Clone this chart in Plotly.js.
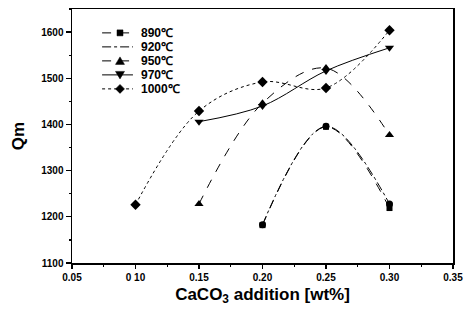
<!DOCTYPE html>
<html><head><meta charset="utf-8">
<script src="https://cdn.plot.ly/plotly-3.0.1.min.js"></script>
<style>html,body{margin:0;padding:0;background:#fff;}#chart{width:474px;height:312px;}</style>
</head><body><div id="chart"></div>
<script>
const seriesNames = ["890℃", "920℃", "950℃", "970℃", "1000℃"];
const x890 = [0.20, 0.25, 0.30];
const y890 = [1182, 1395, 1219];
const x920 = [0.20, 0.25, 0.30];
const y920 = [1183, 1396, 1228];
const x950 = [0.15, 0.20, 0.25, 0.30];
const y950 = [1228, 1446, 1522, 1377];
const x970 = [0.15, 0.20, 0.25, 0.30];
const y970 = [1406, 1440, 1516, 1566];
const x1000 = [0.10, 0.15, 0.20, 0.25, 0.30];
const y1000 = [1226, 1429, 1492, 1479, 1604];
const xTicks = [0.05, 0.10, 0.15, 0.20, 0.25, 0.30, 0.35];
const xTickLabels = ["0.05", "0 10", "0.15", "0.20", "0.25", "0.30", "0.35"];
const yTicks = [1100, 1200, 1300, 1400, 1500, 1600];

const xs = [x890, x920, x950, x970, x1000];
const ys = [y890, y920, y950, y970, y1000];
const symbols = ["square", "circle", "triangle-up", "triangle-down", "diamond"];
const dashes = ["dash", "dashdot", "dash", "solid", "dot"];
const sizes = [6, 7, 8, 8, 8];

const traces = seriesNames.map((n, i) => ({
  x: xs[i], y: ys[i], name: n, type: "scatter", mode: "lines+markers",
  showlegend: false,
  line: {color: "#000", width: 1, dash: dashes[i], shape: "spline", smoothing: 1},
  marker: {symbol: symbols[i], size: sizes[i], color: "#000"}
}));

// Custom compact legend (layout only)
const legTop = 0.906, legStep = 14 / 254;
const legLineX0 = 0.079, legLineX1 = 0.160, legMarkX = 0.126, legTextX = 0.176;
const glyphPaths = [
  "M-3,-3 L3,-3 L3,3 L-3,3 Z",
  "M-3.5,0 A3.5,3.5 0 1,0 3.5,0 A3.5,3.5 0 1,0 -3.5,0 Z",
  "M-4.5,-3.5 L4.5,-3.5 L0,4 Z",
  "M-4.5,3.5 L4.5,3.5 L0,-4 Z",
  "M0,-4.5 L4.5,0 L0,4.5 L-4.5,0 Z"
];
const shapes = [];
const annotations = [];
seriesNames.forEach((n, i) => {
  const yy = legTop - i * legStep;
  shapes.push({type: "line", xref: "paper", yref: "paper", x0: legLineX0, x1: legLineX1, y0: yy, y1: yy,
    line: {color: "#000", width: 1, dash: dashes[i]}});
  shapes.push({type: "path", xref: "paper", yref: "paper", xsizemode: "pixel", ysizemode: "pixel",
    xanchor: legMarkX, yanchor: yy, path: glyphPaths[i], fillcolor: "#000", line: {color: "#000", width: 0.5}});
  annotations.push({xref: "paper", yref: "paper", x: legTextX, y: yy, xanchor: "left", yanchor: "middle",
    text: n, showarrow: false,
    font: {family: "Arial, Liberation Sans, sans-serif", size: 12, color: "#000", weight: "bold"}});
});

const tickFont = {family: "Arial, Liberation Sans, sans-serif", size: 10, color: "#000", weight: "bold"};
const layout = {
  width: 474, height: 312,
  margin: {l: 72, r: 21, t: 9, b: 49},
  paper_bgcolor: "#fff", plot_bgcolor: "#fff",
  showlegend: false,
  shapes: shapes, annotations: annotations,
  xaxis: {range: [0.05, 0.35], tickvals: xTicks, ticktext: xTickLabels,
    showgrid: false, zeroline: false, showline: true, linecolor: "#000", linewidth: 1.5, mirror: true,
    ticks: "outside", ticklen: 4, tickwidth: 1.2, tickcolor: "#000",
    minor: {dtick: 0.025, ticks: "outside", ticklen: 2, tickcolor: "#000"},
    tickfont: tickFont,
    title: {text: "CaCO<sub>3</sub> addition [wt%]", standoff: 6,
      font: {family: "Arial, Liberation Sans, sans-serif", size: 17, color: "#000", weight: "bold"}}},
  yaxis: {range: [1100, 1650], tickvals: yTicks,
    showgrid: false, zeroline: false, showline: true, linecolor: "#000", linewidth: 1.5, mirror: true,
    ticks: "outside", ticklen: 5, tickwidth: 1.2, tickcolor: "#000",
    minor: {dtick: 50, ticks: "outside", ticklen: 2, tickcolor: "#000"},
    tickfont: tickFont,
    title: {text: "Qm", standoff: 12,
      font: {family: "Arial, Liberation Sans, sans-serif", size: 17, color: "#000", weight: "bold"}}}
};
Plotly.newPlot("chart", traces, layout, {staticPlot: true});
</script></body></html>
